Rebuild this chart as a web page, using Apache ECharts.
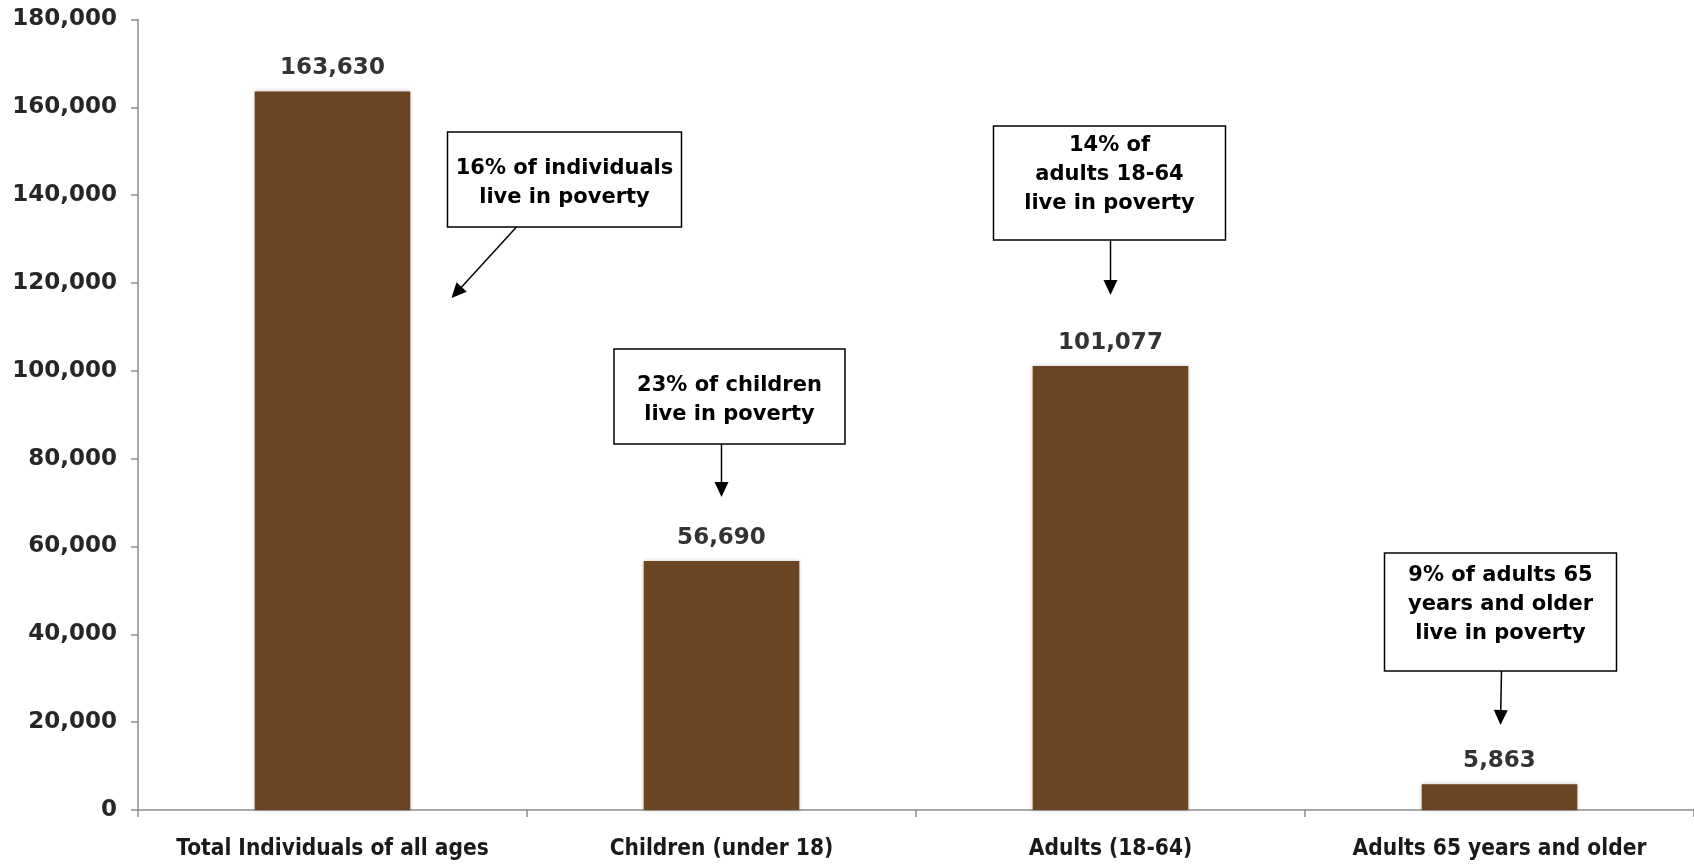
<!DOCTYPE html>
<html><head><meta charset="utf-8">
<script src="https://cdn.jsdelivr.net/npm/echarts@6/dist/echarts.min.js"></script>
<style>html,body{margin:0;padding:0;background:#fff}#c{width:1694px;height:865px}</style>
</head><body><div id="c"></div>
<script>
const categories = ['Total Individuals of all ages', 'Children (under 18)', 'Adults (18-64)', 'Adults 65 years and older'];
const values = [163630, 56690, 101077, 5863];
const yMin = 0, yMax = 180000, yInterval = 20000;
const noteTexts = [
  '16% of individuals\nlive in poverty',
  '23% of children\nlive in poverty',
  '14% of\nadults 18-64\nlive in poverty',
  '9% of adults 65\nyears and older\nlive in poverty'
];
// annotation layout (pixels): box centre offset from category centre, box geometry, text offset, arrow
const noteLayout = [
  {dx: 232, top: 132, w: 234, h: 95, tdy: 4, ax0: 184, ay0: 227, ax1: 119, ay1: 298},
  {dx: 8,   top: 349, w: 231, h: 95, tdy: 4, ax0: 0,   ay0: 444, ax1: 0,   ay1: 497},
  {dx: -1,  top: 126, w: 232, h: 114, tdy: -8, ax0: 0,  ay0: 240, ax1: 0,   ay1: 295},
  {dx: 1,   top: 553, w: 232, h: 118, tdy: -7, ax0: 2,  ay0: 671, ax1: 1,   ay1: 725}
];
const fmt = v => Number(v).toLocaleString('en-US');
const chart = echarts.init(document.getElementById('c'), null, {renderer: 'canvas'});
chart.setOption({
  animation: false,
  backgroundColor: '#ffffff',
  grid: {left: 138, right: 0, top: 19.5, bottom: 55, containLabel: false},
  xAxis: {
    type: 'category', data: categories,
    axisLine: {lineStyle: {color: '#8c8c8c', width: 1.5}},
    axisTick: {show: true, interval: 0, length: 7, lineStyle: {color: '#8c8c8c', width: 1.5}},
    axisLabel: {interval: 0, margin: 28, color: '#1a1a1a', fontFamily: 'DejaVu Sans Condensed', fontWeight: 'bold', fontSize: 22.5}
  },
  yAxis: {
    type: 'value', min: yMin, max: yMax, interval: yInterval,
    splitLine: {show: false},
    axisLine: {show: true, lineStyle: {color: '#8c8c8c', width: 1.5}},
    axisTick: {show: true, length: 7, lineStyle: {color: '#8c8c8c', width: 1.5}},
    axisLabel: {margin: 21, color: '#262626', fontFamily: 'DejaVu Sans', fontWeight: 'bold', fontSize: 23, formatter: fmt}
  },
  series: [{
    type: 'bar', data: values, barWidth: '40%',
    itemStyle: {color: '#6b4522', shadowBlur: 4, shadowColor: 'rgba(0,0,0,0.25)'},
    label: {show: true, position: 'top', distance: 12, color: '#333333', fontFamily: 'DejaVu Sans', fontWeight: 'bold', fontSize: 23, formatter: p => fmt(p.value)}
  }]
});
const graphics = [];
noteLayout.forEach((n, i) => {
  const cx = chart.convertToPixel({xAxisIndex: 0}, i) + n.dx;
  graphics.push({type: 'rect', shape: {x: cx - n.w / 2, y: n.top, width: n.w, height: n.h},
    style: {fill: '#fff', stroke: '#000', lineWidth: 1.5}, z: 10});
  graphics.push({type: 'text', x: cx, y: n.top + n.h / 2 + n.tdy, z: 11,
    style: {text: noteTexts[i], align: 'center', verticalAlign: 'middle', fill: '#000',
      font: 'bold 21px "DejaVu Sans"', lineHeight: 29}});
  const x0 = cx - n.dx + n.ax0, y0 = n.ay0, x1 = cx - n.dx + n.ax1, y1 = n.ay1;
  const ang = Math.atan2(y1 - y0, x1 - x0), L = 15, W = 7;
  const bx = x1 - L * Math.cos(ang), by = y1 - L * Math.sin(ang);
  graphics.push({type: 'line', shape: {x1: x0, y1: y0, x2: bx, y2: by}, style: {stroke: '#000', lineWidth: 1.5}, z: 10});
  graphics.push({type: 'polygon', shape: {points: [[x1, y1],
    [bx + W * Math.sin(ang), by - W * Math.cos(ang)], [bx - W * Math.sin(ang), by + W * Math.cos(ang)]]},
    style: {fill: '#000'}, z: 10});
});
chart.setOption({graphic: graphics});
</script></body></html>
